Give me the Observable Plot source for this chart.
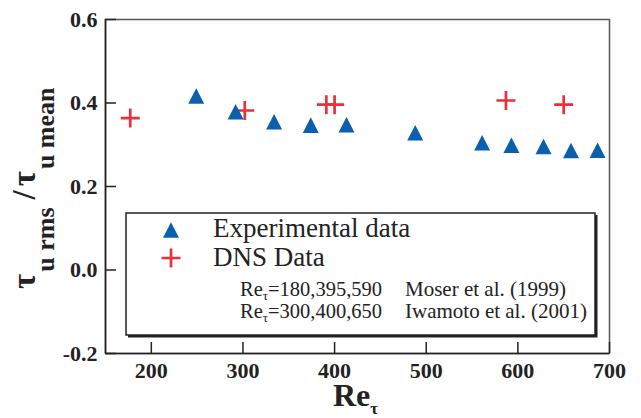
<!DOCTYPE html>
<html><head><meta charset="utf-8">
<script src="https://cdn.jsdelivr.net/npm/d3@7"></script>
<script src="https://cdn.jsdelivr.net/npm/@observablehq/plot@0.6"></script>
<style>body{margin:0;background:#fff} svg{display:block}</style>
</head><body><div id="chart"></div>
<script>
// Data
const expRe    = [249, 292, 334, 374, 413, 488, 561, 593, 628, 658, 687];
const expRatio = [0.417, 0.379, 0.355, 0.347, 0.348, 0.329, 0.305, 0.299, 0.296, 0.286, 0.287];
const dnsRe    = [177, 302, 391, 400, 587, 650];
const dnsRatio = [0.364, 0.382, 0.396, 0.396, 0.406, 0.396];
const xTicks = [200, 300, 400, 500, 600, 700];
const yTicks = [-0.2, 0.0, 0.2, 0.4, 0.6];
const xDomain = [150, 700];
const yDomain = [-0.2, 0.6];
const legendLabels = ["Experimental data", "DNS Data"];
const refRe = ["=180,395,590", "=300,400,650"];
const refAuthors = ["Moser et al. (1999)", "Iwamoto et al. (2001)"];

const BLUE = "#0a5fae", RED = "#e8313a";
const FONT = "'Liberation Serif','Times New Roman',serif";

const triSym = {draw(ctx, size) {
  const s = Math.sqrt(size / Math.PI), h = s * 0.97;
  ctx.moveTo(0, -h); ctx.lineTo(s, h); ctx.lineTo(-s, h); ctx.closePath();
}};
const plusSym = {draw(ctx, size) {
  const s = Math.sqrt(size / Math.PI);
  ctx.moveTo(-s, 0); ctx.lineTo(s, 0); ctx.moveTo(0, -s); ctx.lineTo(0, s);
}};

const expData = expRe.map((re, i) => ({re, v: expRatio[i]}));
const dnsData = dnsRe.map((re, i) => ({re, v: dnsRatio[i]}));

const W = 641, H = 418, mL = 105, mR = 32, mT = 19, mB = 65;
const fw = W - mL - mR, fh = H - mT - mB;

const svg = Plot.plot({
  width: W, height: H,
  marginLeft: mL, marginRight: mR, marginTop: mT, marginBottom: mB,
  x: {domain: xDomain},
  y: {domain: yDomain},
  style: {fontFamily: FONT, background: "#fff", color: "#222"},
  marks: [
    Plot.frame({stroke: "#555", strokeWidth: 1.5}),
    Plot.ruleX([xDomain[0]], {stroke: "#222", strokeWidth: 1.6}),
    Plot.ruleY([yDomain[0]], {stroke: "#222", strokeWidth: 1.6}),
    Plot.tickX(xTicks, {x: d => d, insetTop: fh - 11, stroke: "#222", strokeWidth: 1.5}),
    Plot.tickY(yTicks, {y: d => d, insetRight: fw - 11, stroke: "#222", strokeWidth: 1.5}),
    Plot.axisX(xTicks, {tickSize: 0, tickPadding: 9, fontSize: 22, fontWeight: "bold", fontFamily: FONT,
      label: null, fill: "#222"}),
    Plot.axisY(yTicks, {tickSize: 0, tickPadding: 8, fontSize: 22, fontWeight: "bold", fontFamily: FONT,
      label: null, fill: "#222", tickFormat: d => d.toFixed(1)}),
    Plot.dot(dnsData, {x: "re", y: "v", symbol: plusSym, r: 9.5, stroke: RED, strokeWidth: 2.7, fill: "none"}),
    Plot.dot(expData, {x: "re", y: "v", symbol: triSym, r: 8, fill: BLUE, stroke: "none"})
  ]
});

const s = d3.select(svg);
function txt(parent, x, y, size, weight) {
  return parent.append("text").attr("x", x).attr("y", y)
    .style("font-family", FONT).style("font-size", size + "px")
    .style("font-weight", weight || "normal").style("text-anchor", "start").attr("fill", "#222");
}
// Legend box with shadow
const g = s.append("g");
g.append("polyline").attr("points", "128,336 596,336 596,215")
  .attr("fill", "none").attr("stroke", "#222").attr("stroke-width", 3);
g.append("rect").attr("x", 126).attr("y", 213).attr("width", 469).attr("height", 122)
  .attr("fill", "#fff").attr("stroke", "#222").attr("stroke-width", 1.5);
g.append("path").attr("d", d3.symbol(triSym, 64 * Math.PI)()).attr("transform", "translate(171,230)").attr("fill", BLUE);
g.append("path").attr("d", d3.symbol(plusSym, 9.5 * 9.5 * Math.PI)()).attr("transform", "translate(171,258)")
  .attr("fill", "none").attr("stroke", RED).attr("stroke-width", 2.7);
legendLabels.forEach((t, i) => { txt(g, 213, 237 + i * 29, 27).text(t); });
refRe.forEach((t, i) => {
  const y = 296 + i * 22;
  const tx = txt(g, 240, y, 20.5);
  tx.append("tspan").text("Re");
  tx.append("tspan").style("font-size", "13px").attr("dy", 4).text("τ");
  tx.append("tspan").attr("dy", -4).text(t);
  txt(g, 405, y, 21).text(refAuthors[i]);
});

// X axis label
const xl = txt(s, 333, 406, 32, "bold");
xl.append("tspan").text("Re");
xl.append("tspan").style("font-size", "17px").attr("dy", 8).text("τ");

// Y axis label
const yl = txt(s, 0, 0, 33, "bold").attr("transform", "translate(35,289) rotate(-90)");
yl.append("tspan").text("τ");
yl.append("tspan").style("font-size", "26px").attr("dy", 19).attr("dx", 2).text("u rms");
yl.append("tspan").attr("dy", -19).attr("dx", 8).text("/");
yl.append("tspan").attr("dx", 4).text("τ");
yl.append("tspan").style("font-size", "26px").attr("dy", 19).attr("dx", 2).text("u mean");

document.getElementById("chart").appendChild(svg);
</script>
</body></html>
